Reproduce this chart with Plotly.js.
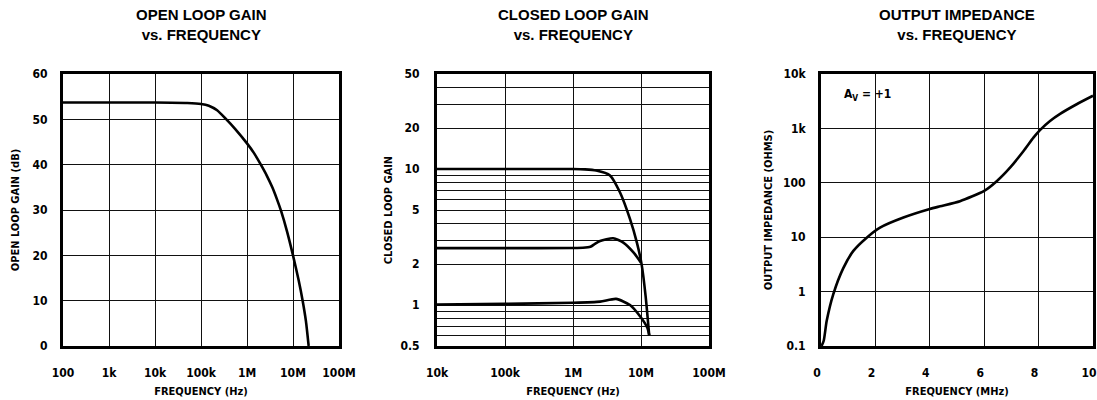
<!DOCTYPE html>
<html>
<head>
<meta charset="utf-8">
<script src="https://cdn.plot.ly/plotly-3.0.1.min.js"></script>
<style>
html,body{margin:0;padding:0;background:#fff;}
#chart{width:1097px;height:400px;}
</style>
</head>
<body>
<div id="chart"></div>
<script>
// ---- Panel 1: Open loop gain vs frequency ----
const olFreq = [100, 1e3, 1e4, 5e4, 1e5, 1.48e5, 2.24e5, 3.39e5, 5.62e5, 1e6, 1.41e6, 2e6, 2.69e6, 3.55e6,
                4.47e6, 5.5e6, 7.41e6, 1e7, 1.32e7, 1.62e7, 1.91e7, 2.19e7];
const olGain = [53.7, 53.7, 53.7, 53.6, 53.4, 53.0, 52.0, 50.2, 47.8, 44.7, 42.6, 40.0, 37.6, 35.0,
                32.4, 29.8, 25.3, 20.0, 14.6, 10.0, 5.5, 0];
const olXTickVals = [100, 1e3, 1e4, 1e5, 1e6, 1e7, 1e8];
const olXTickText = ['100', '1k', '10k', '100k', '1M', '10M', '100M'];
const olYTickVals = [0, 10, 20, 30, 40, 50, 60];

// ---- Panel 2: Closed loop gain vs frequency ----
const clFreqA = [1e4, 1e5, 1e6, 1.5e6, 2.2e6, 3.5e6, 4.9e6, 6.9e6, 8.7e6, 1.02e7, 1.17e7, 1.32e7];
const clGainA = [10, 10, 10, 9.95, 9.75, 8.98, 6.75, 4.28, 2.88, 2.0, 1.16, 0.6];
const clFreqB = [1e4, 1e5, 1e6, 1.4e6, 1.8e6, 2.1e6, 2.5e6, 3.9e6, 5.5e6, 7.8e6, 1.0e7];
const clGainB = [2.62, 2.62, 2.63, 2.64, 2.68, 2.82, 2.96, 3.10, 2.88, 2.43, 2.05];
const clFreqC = [1e4, 1e5, 1e6, 2.5e6, 4.3e6, 6.9e6, 9.8e6, 1.24e7, 1.32e7];
const clGainC = [1.01, 1.02, 1.04, 1.06, 1.11, 1.0, 0.82, 0.68, 0.6];
const clXTickVals = [1e4, 1e5, 1e6, 1e7, 1e8];
const clXTickText = ['10k', '100k', '1M', '10M', '100M'];
const clYTickVals = [0.5, 1, 2, 5, 10, 20, 50];
const clYTickText = ['0.5', '1', '2', '5', '10', '20', '50'];
const clYGridVals = [0.6, 0.7, 0.8, 0.9, 3, 4, 6, 7, 8, 9, 30, 40];

// ---- Panel 3: Output impedance vs frequency ----
const ozFreq = [0.02, 0.1, 0.21, 0.45, 0.82, 1.19, 1.68, 2.17, 3.03, 4.0, 4.38, 5.11, 6.0, 6.46, 6.95,
                7.44, 7.81, 8.05, 8.42, 8.79, 9.4, 10];
const ozImp = [0.1, 0.125, 0.29, 0.89, 2.7, 5.6, 9.8, 15, 23, 33, 37, 46, 71, 107, 190,
               380, 676, 932, 1370, 1850, 2780, 3980];
const ozXTickVals = [0, 2, 4, 6, 8, 10];
const ozYTickVals = [0.1, 1, 10, 100, 1000, 10000];
const ozYTickText = ['0.1', '1', '10', '100', '1k', '10k'];

const titles = ['OPEN LOOP GAIN<br>vs. FREQUENCY', 'CLOSED LOOP GAIN<br>vs. FREQUENCY', 'OUTPUT IMPEDANCE<br>vs. FREQUENCY'];

const W = 1097, H = 400;
const narrow = '"Liberation Sans Narrow", "DejaVu Sans Condensed", "DejaVu Sans", sans-serif';
const tickFont = {family: narrow, size: 12, color: '#000', weight: 'bold', stretch: 'condensed'};
const titleFont = {family: narrow, size: 11, color: '#000', weight: 'bold', stretch: 'condensed'};
const curve = {color: '#000', width: 2.6, shape: 'spline', smoothing: 0.6};

const dom = [[63 / W, 339 / W], [437 / W, 709 / W], [821 / W, 1093 / W]];
const ydom = [1 - 346 / H, 1 - 74 / H];

function axBase(extra) {
  return Object.assign({
    showline: true, linecolor: '#000', linewidth: 3, mirror: true,
    showgrid: true, gridcolor: '#111', gridwidth: 1,
    zeroline: false, ticks: '', tickfont: tickFont,
    fixedrange: true, tickmode: 'array', ticklabeloverflow: 'allow'
  }, extra);
}

const traces = [
  {x: olFreq, y: olGain, xaxis: 'x', yaxis: 'y', mode: 'lines', line: curve, hoverinfo: 'skip'},
  {x: clFreqA, y: clGainA, xaxis: 'x2', yaxis: 'y2', mode: 'lines', line: curve, hoverinfo: 'skip'},
  {x: clFreqB, y: clGainB, xaxis: 'x2', yaxis: 'y2', mode: 'lines', line: curve, hoverinfo: 'skip'},
  {x: clFreqC, y: clGainC, xaxis: 'x2', yaxis: 'y2', mode: 'lines', line: curve, hoverinfo: 'skip'},
  {x: ozFreq, y: ozImp, xaxis: 'x3', yaxis: 'y3', mode: 'lines', line: curve, hoverinfo: 'skip'}
];

const layout = {
  width: W, height: H,
  margin: {l: 0, r: 0, t: 0, b: 0},
  paper_bgcolor: '#fff', plot_bgcolor: '#fff',
  showlegend: false,
  xaxis: axBase({domain: dom[0], anchor: 'y', type: 'log', range: [2, 8],
    tickvals: olXTickVals, ticktext: olXTickText, ticklabelstandoff: 14,
    title: {text: 'FREQUENCY (Hz)', font: titleFont, standoff: 8}}),
  yaxis: axBase({domain: ydom, anchor: 'x', range: [0, 60],
    tickvals: olYTickVals, ticklabelstandoff: 10,
    title: {text: 'OPEN LOOP GAIN (dB)', font: titleFont, standoff: 11}}),
  xaxis2: axBase({domain: dom[1], anchor: 'y2', type: 'log', range: [4, 8],
    tickvals: clXTickVals, ticktext: clXTickText, ticklabelstandoff: 14,
    title: {text: 'FREQUENCY (Hz)', font: titleFont, standoff: 8}}),
  yaxis2: axBase({domain: ydom, anchor: 'x2', type: 'log', range: [Math.log10(0.5), Math.log10(50)],
    tickvals: clYTickVals, ticktext: clYTickText, ticklabelstandoff: 12,
    minor: {tickmode: 'array', tickvals: clYGridVals, showgrid: true, gridcolor: '#111', gridwidth: 1, ticks: ''},
    title: {text: 'CLOSED LOOP GAIN', font: titleFont, standoff: 6}}),
  xaxis3: axBase({domain: dom[2], anchor: 'y3', range: [0, 10],
    tickvals: ozXTickVals, ticklabelstandoff: 14, ticklabelshift: -4,
    title: {text: 'FREQUENCY (MHz)', font: titleFont, standoff: 8}}),
  yaxis3: axBase({domain: ydom, anchor: 'x3', type: 'log', range: [-1, 4],
    tickvals: ozYTickVals, ticktext: ozYTickText, ticklabelstandoff: 10,
    title: {text: 'OUTPUT IMPEDANCE (OHMS)', font: titleFont, standoff: 9}}),
  annotations: [
    ...titles.map((t, i) => ({
      text: t, xref: 'paper', yref: 'paper',
      x: (dom[i][0] + dom[i][1]) / 2, y: 1 - 24.5 / H,
      xanchor: 'center', yanchor: 'middle', showarrow: false,
      font: {family: '"Liberation Sans", Arial, sans-serif', size: 15, color: '#000', weight: 'bold'}
    })),
    {text: 'A<sub>V</sub> = +1', xref: 'x3', yref: 'y3', x: 0.77, y: 3.61,
     xanchor: 'left', yanchor: 'middle', showarrow: false,
     font: {family: narrow, size: 12, color: '#000', weight: 'bold', stretch: 'condensed'}}
  ]
};

Plotly.newPlot('chart', traces, layout, {staticPlot: true, displayModeBar: false});
</script>
</body>
</html>
